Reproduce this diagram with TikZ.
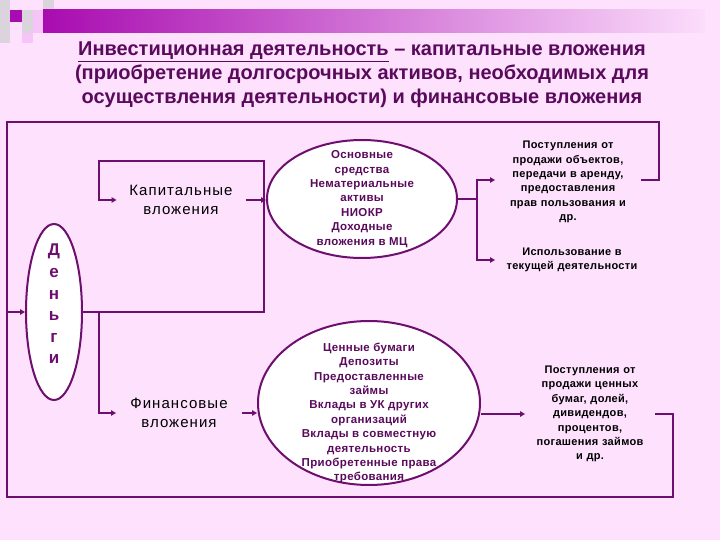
\documentclass[tikz,border=0pt]{standalone}
\usepackage{fontspec}
\setmainfont{Liberation Sans}
\newfontfamily\ttlfont{Liberation Sans}
\newfontfamily\lsfont[LetterSpace=3]{Liberation Sans}
\newfontfamily\kapfont[LetterSpace=7]{Liberation Sans}
\usetikzlibrary{shapes.geometric,arrows.meta}
\definecolor{bg}{HTML}{FDE1FD}
\definecolor{lc}{HTML}{6E0E6E}
\definecolor{tc}{HTML}{5A0A5C}
\definecolor{barl}{HTML}{A80CB0}
\definecolor{barr}{HTML}{FBDDFB}
\definecolor{sqg}{HTML}{DCD4DC}
\definecolor{sqp}{HTML}{F6C4F6}
\begin{document}
\begin{tikzpicture}[x=1pt,y=-1pt,
  ln/.style={draw=lc,line width=2.2pt},
  arr/.style={-{Triangle[length=5pt,width=5.5pt]}},
  ell/.style={ellipse,draw=lc,line width=2pt,fill=white,inner sep=0pt},
  etext/.style={font=\lsfont\bfseries\fontsize{11.5}{14.4}\selectfont,text=tc,align=center},
  btext/.style={font=\lsfont\bfseries\fontsize{11}{14.4}\selectfont,text=black,align=center,inner sep=0pt,outer sep=0pt},
  ktext/.style={font=\kapfont\fontsize{15}{19}\selectfont,text=black,align=center,inner sep=0pt,outer sep=0pt}]
\useasboundingbox (0,0) rectangle (720,540);
\fill[bg] (0,0) rectangle (720,540);
% top-left squares
\fill[sqg] (0,0) rectangle (10,43);
\fill[barl] (10,10) rectangle (22,22);
\fill[sqg] (22,10) rectangle (33,22);
\fill[sqp] (33,10) rectangle (44,22);
\fill[sqg] (43,0) rectangle (54,10);
\fill[sqg] (22,22) rectangle (33,33);
\fill[sqp] (33,22) rectangle (44,33);
\fill[sqp] (22,33) rectangle (33,43);
% bar
\shade[left color=barl,right color=barr] (43,10) rectangle (705,33);
% title
\node[font=\ttlfont\bfseries\fontsize{20}{24}\selectfont,text=tc,align=center] (title) at (362,75)
 {\underline{Инвестиционная деятельность} – капитальные вложения\\(приобретение долгосрочных активов, необходимых для\\осуществления деятельности) и финансовые вложения};
% ellipses
\node[ell,minimum width=56pt,minimum height=176pt] (dengi) at (54,312) {};
\node[font=\bfseries\fontsize{17}{21.6}\selectfont,text=lc,align=center] (dtext) at ([yshift=8pt]dengi.center) {Д\\е\\н\\ь\\г\\и};
\node[ell,minimum width=190pt,minimum height=118pt] (e1) at (362,199) {};
\node[etext] (e1t) at (e1.center) {Основные\\средства\\Нематериальные\\активы\\НИОКР\\Доходные\\вложения в МЦ};
\node[ell,minimum width=222pt,minimum height=164pt] (e2) at (369,403) {};
\node[etext] (e2t) at ([yshift=-10pt]e2.center) {Ценные бумаги\\Депозиты\\Предоставленные\\займы\\Вклады в УК других\\организаций\\Вклады в совместную\\деятельность\\Приобретенные права\\требования};
% text nodes
\node[ktext,text width=129pt] (kap) at (181,200) {Капитальные\\вложения};
\node[ktext,text width=126pt] (fin) at (179,413) {Финансовые\\вложения};
\node[btext,text width=146pt] (p1) at (568,182) {Поступления от\\продажи объектов,\\передачи в аренду,\\предоставления\\прав пользования и\\др.};
\node[btext,text width=154pt] (isp) at (572,260) {Использование в\\текущей деятельности};
\node[btext,text width=130pt] (p3) at (590,414) {Поступления от\\продажи ценных\\бумаг, долей,\\дивидендов,\\процентов,\\погашения займов\\и др.};
% connectors
\coordinate (j1) at (99,312);
\draw[ln,arr] (dengi.east) -- (264,312) -- (264,161) -- (99,161) |- (kap.west);
\draw[ln,arr] (j1) |- (fin.west);
\draw[ln,arr] (kap.east) -- (kap.east -| e1.west);
\draw[ln,arr] (fin.east) -- (fin.east -| e2.west);
\draw[ln] (e1.east) -- (477,199) coordinate (b1);
\draw[ln,arr] (b1) -- (477,180) -- (p1.west |- 0,180);
\draw[ln,arr] (b1) |- (isp.west);
\draw[ln,arr] (e2.east |- p3.west) -- (p3.west);
\draw[ln,arr] (p1.east |- 0,180) -- (659,180) -- (659,122) -- (7,122) |- (dengi.west);
\draw[ln] (p3.east) -- (673,414) -- (673,497) -- (7,497) -- (7,312);
\end{tikzpicture}
\end{document}
